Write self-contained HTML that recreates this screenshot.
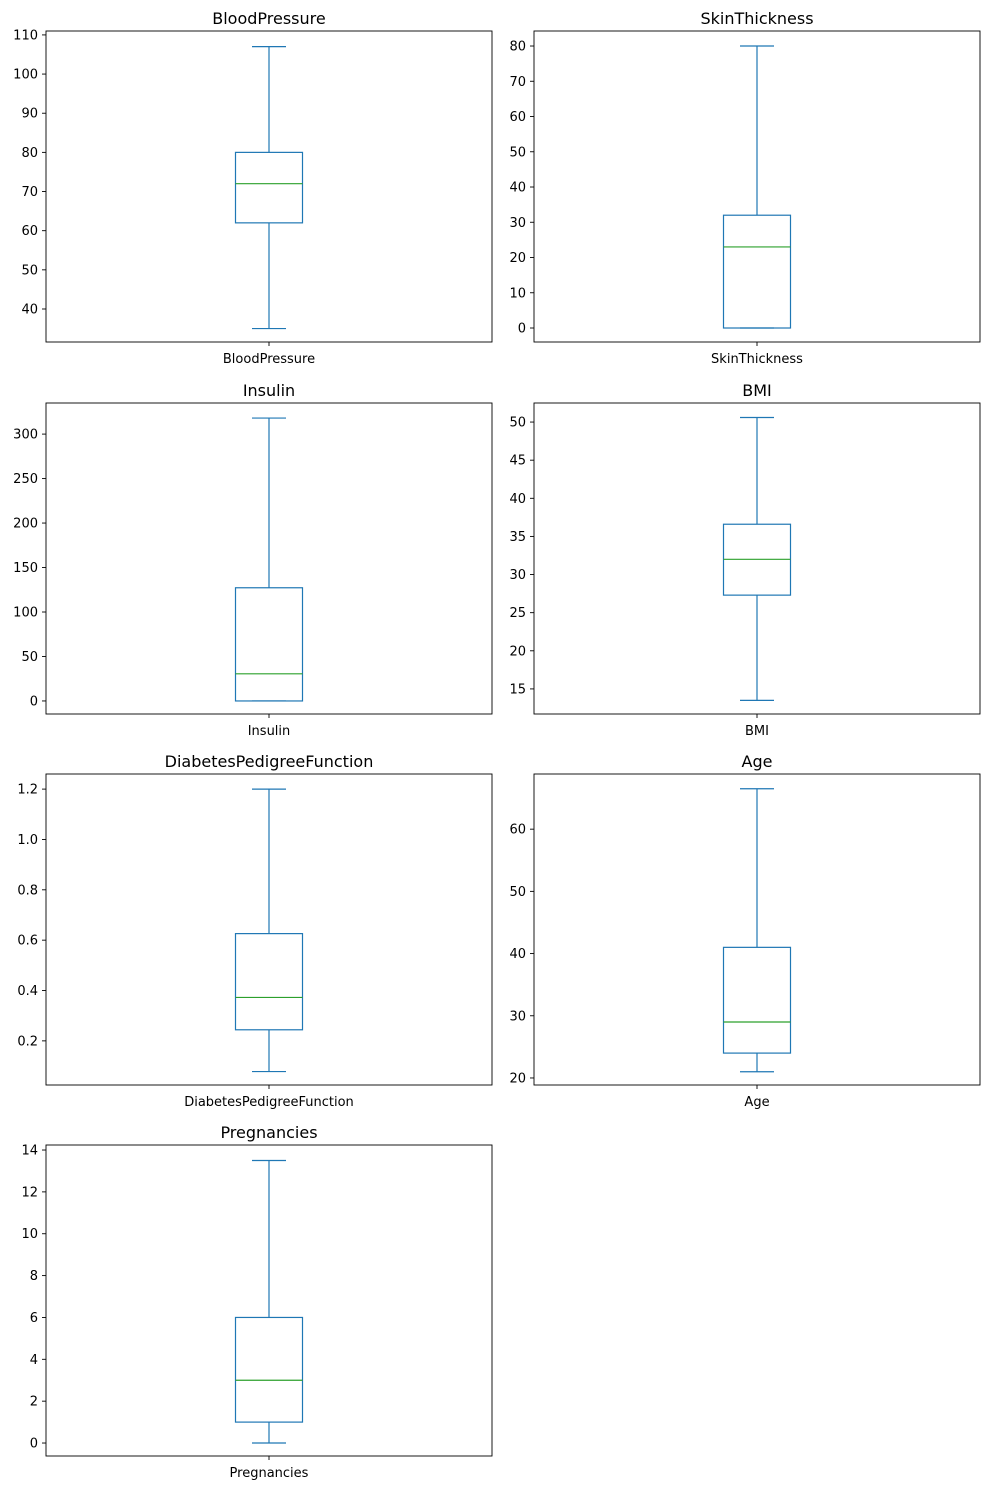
<!DOCTYPE html>
<html><head><meta charset="utf-8">
<style>
html,body{margin:0;padding:0;background:#fff;}
svg{display:block;font-family:"DejaVu Sans","Liberation Sans",sans-serif;}
</style></head>
<body>
<svg id="fig" width="989" height="1489" viewBox="0 0 989 1489" xmlns="http://www.w3.org/2000/svg"></svg>
<script>
const names = ["BloodPressure","SkinThickness","Insulin","BMI","DiabetesPedigreeFunction","Age","Pregnancies"];
const whiskerLow  = [35, 0, 0, 13.5, 0.078, 21, 0];
const q1          = [62, 0, 0, 27.3, 0.244, 24, 1];
const medians     = [72, 23, 30.5, 32, 0.3725, 29, 3];
const q3          = [80, 32, 127.25, 36.6, 0.626, 41, 6];
const whiskerHigh = [107, 80, 318, 50.6, 1.2, 66.5, 13.5];
const yMin = [31.57, -3.97, -14.66, 11.71, 0.0247, 18.87, -0.62];
const yMax = [111.0, 84.26, 334.96, 52.5, 1.26, 68.87, 14.24];
const tickStart = [40, 0, 0, 15, 0.2, 20, 0];
const tickEnd   = [110, 80, 300, 50, 1.2, 60, 14];
const tickStep  = [10, 10, 50, 5, 0.2, 10, 2];
const tickDecimals = [0,0,0,0,1,0,0];

const NS="http://www.w3.org/2000/svg";
const svg=document.getElementById('fig');
function mk(tag,attrs,parent){const e=document.createElementNS(NS,tag);for(const k in attrs)e.setAttribute(k,attrs[k]);(parent||svg).appendChild(e);return e;}
const colX=[46,534], rowY=[31,403,774,1145], W=446, H=311;

names.forEach((name,i)=>{
  const x0=colX[i%2], y0=rowY[Math.floor(i/2)];
  const g=mk('g',{});
  
  
  const y=v=>y0+H-(v-yMin[i])/(yMax[i]-yMin[i])*H;
  const cx=x0+W/2;
  // title
  const t=mk('text',{x:cx,y:y0-7,'text-anchor':'middle','font-size':'16',fill:'#000'},g);
  t.textContent=name;
  
  
  // ticks
  const n=Math.round((tickEnd[i]-tickStart[i])/tickStep[i]);
  for(let k=0;k<=n;k++){
    const v=tickStart[i]+k*tickStep[i], ty=y(v);
    mk('line',{x1:x0-4,x2:x0,y1:ty,y2:ty,stroke:'#000','stroke-width':0.9},g);
    const tl=mk('text',{x:x0-8,y:ty+4.5,'text-anchor':'end','font-size':'13',fill:'#000'},g);
    tl.textContent=v.toFixed(tickDecimals[i]);
    
    
  }
  mk('line',{x1:cx,x2:cx,y1:y0+H,y2:y0+H+4,stroke:'#000','stroke-width':0.9},g);
  const xl=mk('text',{x:cx,y:y0+H+21,'text-anchor':'middle','font-size':'13',fill:'#000'},g);
  xl.textContent=name;
  
  
  // box
  const c='#1f77b4', bw=67, cw=34;
  mk('line',{x1:cx,x2:cx,y1:y(q3[i]),y2:y(whiskerHigh[i]),stroke:c,'stroke-width':1.2},g);
  mk('line',{x1:cx,x2:cx,y1:y(q1[i]),y2:y(whiskerLow[i]),stroke:c,'stroke-width':1.2},g);
  mk('line',{x1:cx-cw/2,x2:cx+cw/2,y1:y(whiskerHigh[i]),y2:y(whiskerHigh[i]),stroke:c,'stroke-width':1.2},g);
  mk('line',{x1:cx-cw/2,x2:cx+cw/2,y1:y(whiskerLow[i]),y2:y(whiskerLow[i]),stroke:c,'stroke-width':1.2},g);
  const b=mk('rect',{x:cx-bw/2,y:y(q3[i]),width:bw,height:Math.max(0.5,y(q1[i])-y(q3[i])),fill:'none',stroke:c,'stroke-width':1.2},g);
  
  
  const m=mk('line',{x1:cx-bw/2,x2:cx+bw/2,y1:y(medians[i]),y2:y(medians[i]),stroke:'#2ca02c','stroke-width':1.2},g);
  
  
  // frame
  mk('rect',{x:x0,y:y0,width:W,height:H,fill:'none',stroke:'#000','stroke-width':0.9},g);
});
</script>
</body></html>
